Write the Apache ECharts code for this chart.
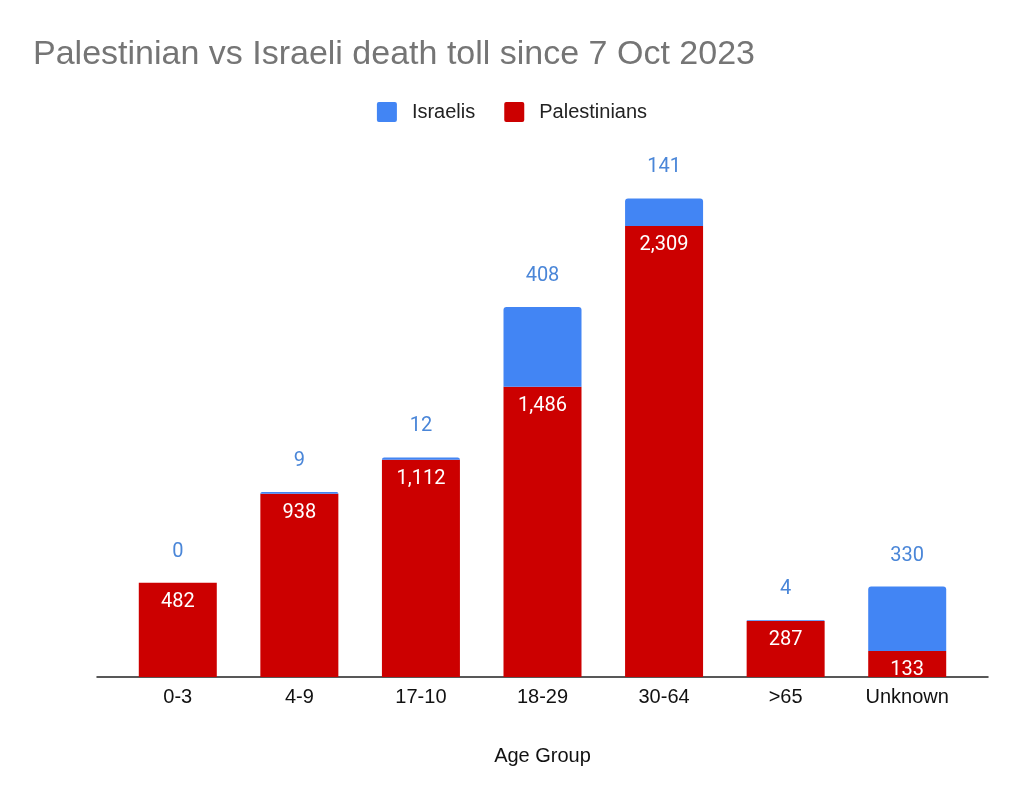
<!DOCTYPE html>
<html>
<head>
<meta charset="utf-8">
<script src="https://cdn.jsdelivr.net/npm/echarts@6/dist/echarts.min.js"></script>
<style>html,body{margin:0;padding:0;background:#fff}#c{width:1024px;height:806px}</style>
</head>
<body>
<div id="c"></div>
<script>
const categories = ['0-3', '4-9', '17-10', '18-29', '30-64', '>65', 'Unknown'];
const palestinians = [482, 938, 1112, 1486, 2309, 287, 133];
const israelis = [0, 9, 12, 408, 141, 4, 330];

const FONT = 'Liberation Sans, Arial, sans-serif';
const chart = echarts.init(document.getElementById('c'));
chart.setOption({
  animation: false,
  backgroundColor: '#ffffff',
  title: {
    text: 'Palestinian vs Israeli death toll since 7 Oct 2023',
    left: 28, top: 33,
    textStyle: { fontFamily: FONT, fontSize: 34, fontWeight: 'normal', color: '#757575' }
  },
  legend: {
    data: ['Israelis', 'Palestinians'],
    left: 'center', top: 97,
    itemWidth: 20, itemHeight: 20, itemGap: 29,
    icon: 'path://M2,0 H18 A2,2 0 0 1 20,2 V18 A2,2 0 0 1 18,20 H2 A2,2 0 0 1 0,18 V2 A2,2 0 0 1 2,0 Z',
    textStyle: { fontFamily: FONT, fontSize: 20, color: '#222', padding: [0, 0, 0, 10] }
  },
  grid: [
    { left: 117, right: 56, top: 91, bottom: 129 },
    { left: 97, right: 36, top: 91, bottom: 129 }
  ],
  xAxis: [
    {
      type: 'category',
      gridIndex: 0,
      data: categories,
      name: 'Age Group',
      nameLocation: 'middle',
      nameGap: 69,
      nameTextStyle: { fontFamily: FONT, fontSize: 20, color: '#111' },
      axisLine: { show: false },
      axisTick: { show: false },
      axisLabel: { margin: 10, fontFamily: FONT, fontSize: 20, color: '#111' }
    },
    {
      type: 'category',
      gridIndex: 1,
      data: categories,
      axisLine: { lineStyle: { color: '#222', width: 1.5 } },
      axisTick: { show: false },
      axisLabel: { show: false }
    }
  ],
  yAxis: [
    { type: 'value', gridIndex: 0, min: 0, max: 3000, show: false, splitLine: { show: false } },
    { type: 'value', gridIndex: 1, min: 0, max: 3000, show: false, splitLine: { show: false } }
  ],
  series: [
    {
      name: 'Palestinians', type: 'bar', stack: 'total', data: palestinians,
      barWidth: 78,
      itemStyle: { color: '#cc0000' },
      label: {
        show: true, position: 'insideTop', distance: 9,
        formatter: p => p.value.toLocaleString('en-US'),
        fontFamily: 'Roboto, sans-serif', fontSize: 20, color: '#ffffff'
      }
    },
    {
      name: 'Israelis', type: 'bar', stack: 'total', data: israelis,
      barWidth: 78,
      itemStyle: { color: '#4285f4', borderRadius: [3, 3, 0, 0] },
      label: {
        show: true, position: 'top', distance: 21,
        formatter: p => p.value.toLocaleString('en-US'),
        fontFamily: 'Roboto, sans-serif', fontSize: 20, color: '#4a86d8'
      }
    }
  ]
});
</script>
</body>
</html>
